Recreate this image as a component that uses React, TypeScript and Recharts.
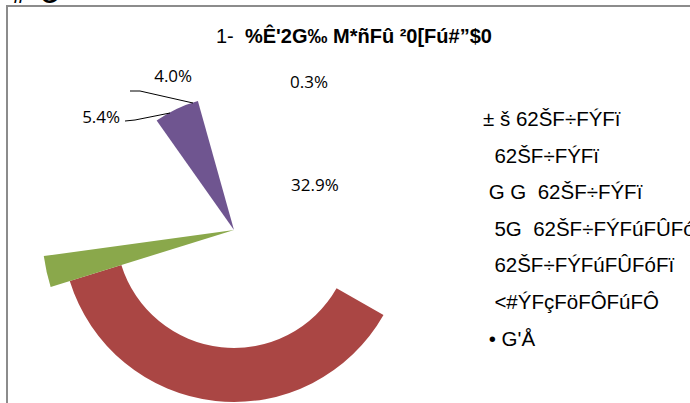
import { PieChart, Pie, Cell, Legend } from "recharts"

// legend entries, in slice order (text as it appears in the sheet)
const legendNames = [
  "± š 62ŠF÷FÝFï",
  "  62ŠF÷FÝFï",
  " G G  62ŠF÷FÝFï",
  "  5G  62ŠF÷FÝFúFÛFó",
  "  62ŠF÷FÝFúFÛFóFï",
  "  <#ÝFçFöFÔFúFÔ",
  " • G'Å",
]
const shares = [32.9, 36.6, 2.6, 17.2, 5.4, 4.0, 0.3]
const shownLabels = [0, 4, 5, 6]

const title = "%Ê'2G‰ M*ñFû ²0[Fú#”$0"

const RED = "#aa4644"
const GREEN = "#8aa84b"
const PURPLE = "#6f5590"

const data = legendNames.map((name, i) => ({ name, value: shares[i] }))

const CX = 234
const CY = 230
const RAD = Math.PI / 180

// where Excel dropped the data labels (angle, radius from centre)
const labelSpots: Record<number, [number, number]> = {
  0: [29.6, 93],
  4: [139.4, 175],
  5: [111.5, 166],
  6: [63.1, 166],
}
// leader lines, offsets from the centre
const leaders: Record<number, [number, number][]> = {
  4: [[-109, -109], [-99, -110], [-64, -117]],
  5: [[-104, -139], [-94, -139], [-41, -127]],
}

const renderLabel = (props: any) => {
  const { cx, cy, index, value } = props
  if (!shownLabels.includes(index)) return <g key={index} />
  const [a, r] = labelSpots[index]
  const x = cx + r * Math.cos(-a * RAD)
  const y = cy + r * Math.sin(-a * RAD)
  const line = leaders[index]
  return (
    <g key={index}>
      {line && (
        <polyline
          points={line.map(([dx, dy]) => `${cx + dx},${cy + dy}`).join(" ")}
          fill="none"
          stroke="#000"
          strokeWidth={1}
        />
      )}
      <text
        x={x}
        y={y}
        textAnchor="middle"
        dominantBaseline="central"
        fill="#000"
        fontSize={17}
        fontFamily="'Open Sans', sans-serif"
      >
        {`${Number(value).toFixed(1)}%`}
      </text>
    </g>
  )
}

const renderLegend = () => (
  <div
    style={{
      fontFamily: "'Liberation Sans', Arial, sans-serif",
      fontSize: 20.5,
      lineHeight: "36.6px",
      color: "#000",
      whiteSpace: "pre",
    }}
  >
    {legendNames.map((n) => (
      <div key={n}>{n}</div>
    ))}
  </div>
)

const only = (idx: number, color: string) =>
  data.map((_, i) => <Cell key={i} fill={i === idx ? color : "none"} />)

export default function App() {
  return (
    <div style={{ position: "absolute", left: 0, top: 0, width: 690, height: 403, overflow: "hidden", background: "#fff" }}>
      <div
        style={{
          position: "absolute",
          left: 6,
          top: 5,
          width: 700,
          height: 420,
          borderTop: "2px solid #8c8c8c",
          borderLeft: "2px solid #8c8c8c",
        }}
      />
      <div
        style={{
          position: "absolute",
          left: 13,
          top: -17,
          fontFamily: "'Liberation Sans', Arial, sans-serif",
          fontWeight: "bold",
          fontSize: 22,
        }}
      >
        #
      </div>
      <div
        style={{
          position: "absolute",
          left: 41,
          top: -17,
          fontFamily: "'Liberation Sans', Arial, sans-serif",
          fontWeight: "bold",
          fontSize: 22,
        }}
      >
        G
      </div>
      <div style={{ position: "absolute", left: 0, top: 0 }}>
        <PieChart width={690} height={403} margin={{ top: 0, right: 0, bottom: 0, left: 0 }}>
          <Pie
            data={data}
            dataKey="value"
            cx={CX}
            cy={CY}
            startAngle={90}
            endAngle={-270}
            innerRadius={118}
            outerRadius={172}
            stroke="none"
            isAnimationActive={false}
          >
            {only(1, RED)}
          </Pie>
          <Pie
            data={data}
            dataKey="value"
            cx={CX}
            cy={CY}
            startAngle={90}
            endAngle={-270}
            outerRadius={192}
            stroke="none"
            isAnimationActive={false}
          >
            {only(2, GREEN)}
          </Pie>
          <Pie
            data={data}
            dataKey="value"
            cx={CX}
            cy={CY}
            startAngle={90}
            endAngle={-270}
            outerRadius={134}
            stroke="none"
            label={renderLabel}
            labelLine={false}
            isAnimationActive={false}
          >
            {only(4, PURPLE)}
          </Pie>
          <Legend
            layout="vertical"
            align="right"
            verticalAlign="top"
            content={renderLegend}
            wrapperStyle={{ left: 483, top: 101, width: 240 }}
          />
        </PieChart>
      </div>
      <div
        style={{
          position: "absolute",
          left: 216,
          top: 25,
          fontFamily: "'Liberation Sans', Arial, sans-serif",
          fontSize: 20,
          whiteSpace: "pre",
          color: "#000",
        }}
      >
        {"1-  "}
        <b>{title}</b>
      </div>
    </div>
  )
}
